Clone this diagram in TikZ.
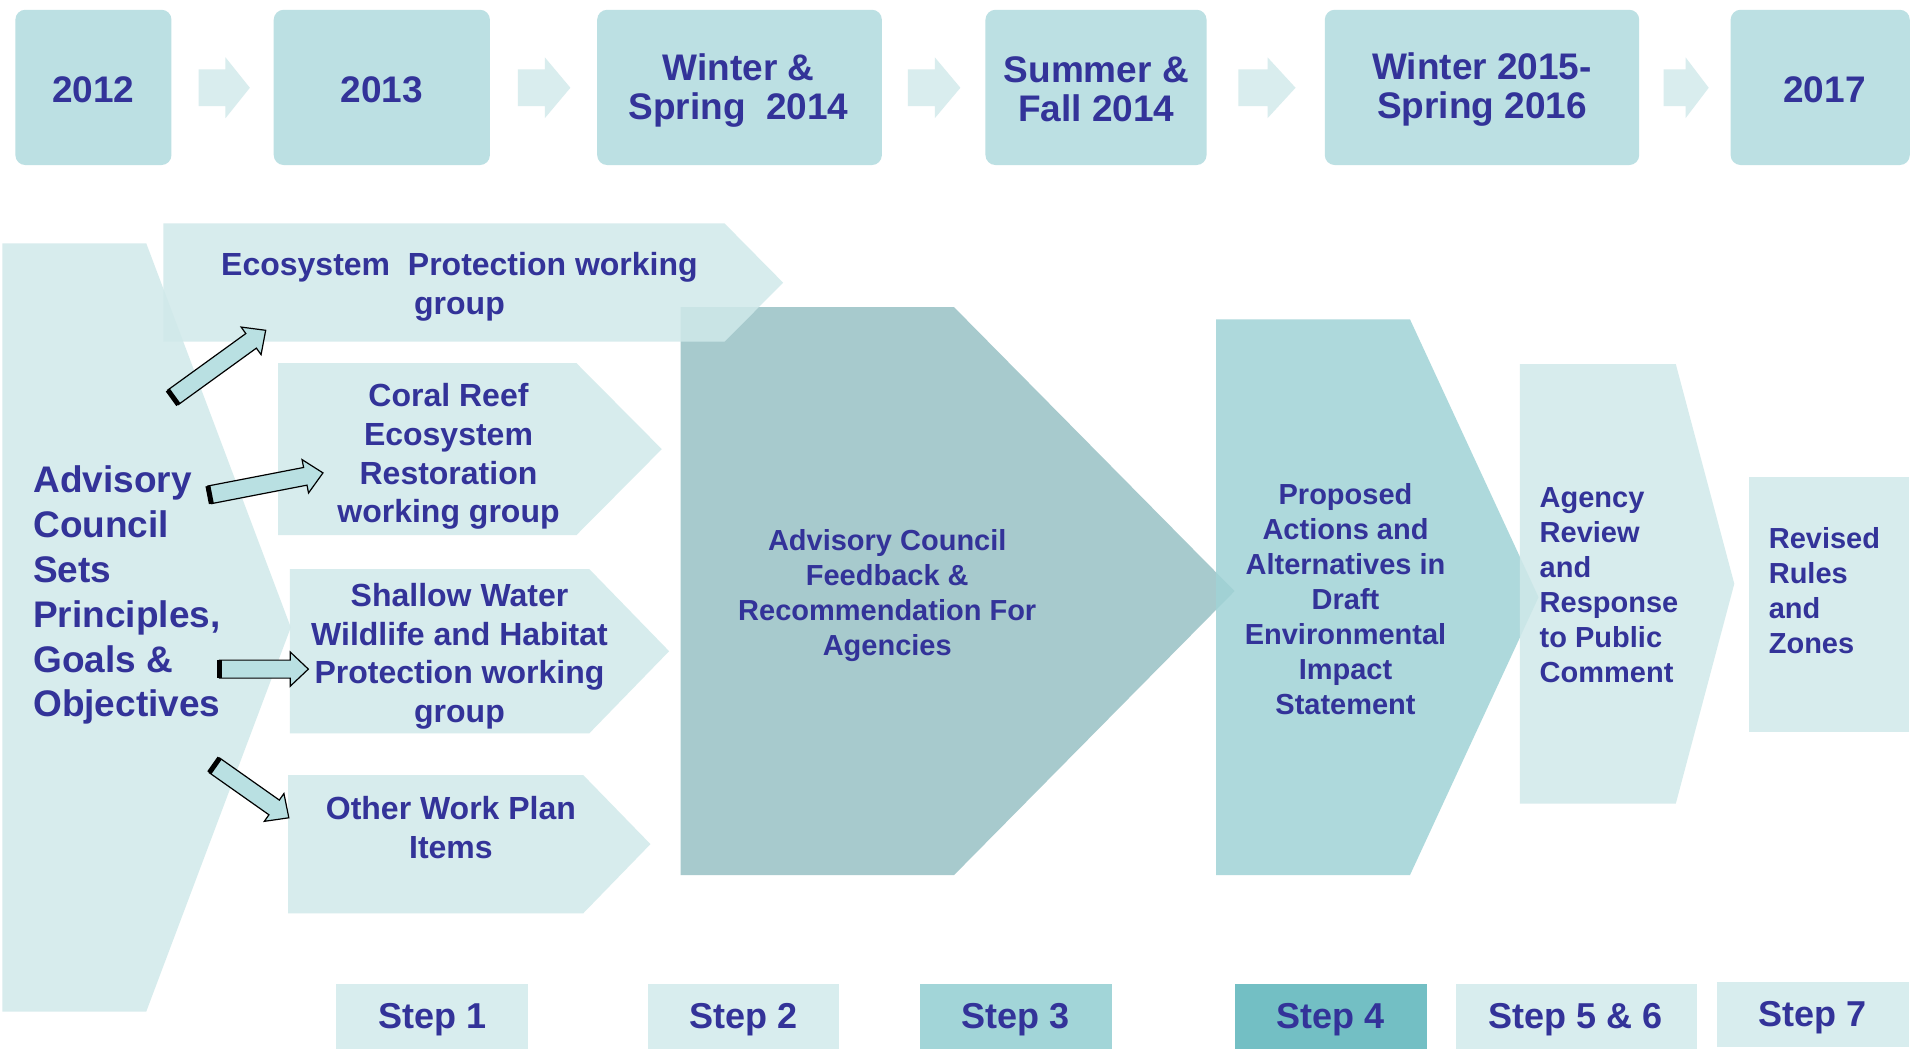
\documentclass[tikz,border=0pt]{standalone}
\usepackage{fontspec}
\setmainfont{Liberation Sans}
\usetikzlibrary{calc}
\definecolor{txt}{RGB}{51,51,153}
\definecolor{topc}{RGB}{188,224,227}
\definecolor{smallarr}{RGB}{217,237,238}
\definecolor{lightc}{RGB}{208,233,234}
\definecolor{darkc}{RGB}{167,202,205}
\definecolor{propc}{RGB}{160,211,214}
\definecolor{stepc}{RGB}{216,237,238}
\definecolor{stepthree}{RGB}{162,213,216}
\definecolor{stepfour}{RGB}{115,191,196}
\definecolor{arrc}{RGB}{185,224,226}
\tikzset{
  topbox/.style={fill=topc, rounded corners=5pt},
  smallarrow/.style={fill=smallarr},
  lightshape/.style={fill=lightc, fill opacity=0.85},
  darkshape/.style={fill=darkc},
  propshape/.style={fill=propc, fill opacity=0.85},
  stepbox/.style={fill=stepc},
  arrowbody/.style={fill=arrc, draw=black, line width=0.6pt, line join=miter},
  basetxt/.style={text=txt, inner sep=0pt, text opacity=1},
  yeartxt/.style={basetxt, align=center, font=\fontsize{18.5}{19.5}\selectfont\bfseries},
  grouptxt/.style={basetxt, align=center, font=\fontsize{16}{19.4}\selectfont\bfseries},
  midtxt/.style={basetxt, align=center, font=\fontsize{14.5}{17.5}\selectfont\bfseries},
  midleft/.style={basetxt, align=left, anchor=west, font=\fontsize{14.5}{17.5}\selectfont\bfseries},
  bigtxt/.style={basetxt, align=left, anchor=west, font=\fontsize{18.5}{22.4}\selectfont\bfseries},
  steptxt/.style={basetxt, font=\fontsize{18}{20}\selectfont\bfseries},
}
\newcommand\blockarrow[2]{%
  \coordinate (#1-b) at ($(#2)!9pt!(#1)$);
  \path[arrowbody] ($(#1)!4.5pt!90:(#2)$) -- ($(#1-b)!4.5pt!90:(#2)$) -- ($(#1-b)!8.5pt!90:(#2)$) -- (#2) -- ($(#1-b)!8.5pt!-90:(#2)$) -- ($(#1-b)!4.5pt!-90:(#2)$) -- ($(#1)!4.5pt!-90:(#2)$) -- cycle;
  \draw[line width=2.5pt] ($(#1)!4.5pt!90:(#2)$) -- ($(#1)!4.5pt!-90:(#2)$);
}
\begin{document}
\begin{tikzpicture}[x=0.6094pt, y=-0.6094pt]
\useasboundingbox[fill=white] (0,0) rectangle (1568,862);

% ---- top timeline ----
\path[topbox] (12.6,8) rectangle (140.7,135.4);
\path[topbox] (224.6,8) rectangle (402,135.4);
\path[topbox] (490,8) rectangle (723.6,135.4);
\path[topbox] (808.6,8) rectangle (990,135.4);
\path[topbox] (1087,8) rectangle (1345,135.4);
\path[topbox] (1420,8) rectangle (1567,135.4);

\path[smallarrow] (163,57) -- (185,57) -- (185,47) -- (205,72) -- (185,97) -- (185,87) -- (163,87) -- cycle;
\path[smallarrow] (425,57) -- (447,57) -- (447,47) -- (468,72) -- (447,97) -- (447,87) -- (425,87) -- cycle;
\path[smallarrow] (745,57) -- (767,57) -- (767,47) -- (788,72) -- (767,97) -- (767,87) -- (745,87) -- cycle;
\path[smallarrow] (1016,57) -- (1040,57) -- (1040,47) -- (1063,72) -- (1040,97) -- (1040,87) -- (1016,87) -- cycle;
\path[smallarrow] (1365,57) -- (1383,57) -- (1383,47) -- (1402,72) -- (1383,97) -- (1383,87) -- (1365,87) -- cycle;

\node[yeartxt] (y2012) at (76.6,73.5) {2012};
\node[yeartxt] (y2013) at (313.3,73.5) {2013};
\node[yeartxt] (w2014) at (606,74) {Winter \&\\Spring~~2014};
\node[yeartxt] (s2014) at (899.5,73.5) {Summer \&\\Fall 2014};
\node[yeartxt] (w2015) at (1216,73.5) {Winter 2015-\\Spring 2016};
\node[yeartxt] (y2017) at (1497,73.5) {2017};

% ---- main flow shapes ----
\path[darkshape] (558.4,252) -- (782.8,252) -- (1013,485) -- (782.8,718) -- (558.4,718) -- cycle;
\path[lightshape] (2,199.6) -- (120,199.6) -- (238.6,514.8) -- (120,830) -- (2,830) -- cycle;
\path[lightshape] (134,183.2) -- (594.4,183.2) -- (642.6,232) -- (594.4,280.3) -- (134,280.3) -- cycle;
\path[lightshape] (228.2,298) -- (473,298) -- (543,368.5) -- (473,439) -- (228.2,439) -- cycle;
\path[lightshape] (237.8,466.9) -- (483.5,466.9) -- (549,534.3) -- (483.5,601.7) -- (237.8,601.7) -- cycle;
\path[lightshape] (236.5,635.9) -- (478.5,635.9) -- (533.7,692.6) -- (478.5,749.4) -- (236.5,749.4) -- cycle;
\path[propshape] (997.8,262) -- (1156.9,262) -- (1262.4,490) -- (1156.9,718) -- (997.8,718) -- cycle;
\path[lightshape] (1247,298.7) -- (1375,298.7) -- (1423,479) -- (1375,659.4) -- (1247,659.4) -- cycle;
\path[lightshape] (1435,391) rectangle (1566,601);

\node[bigtxt] (council) at (27,488.5) {Advisory\\Council\\Sets\\Principles,\\Goals \&\\Objectives};
\node[grouptxt] (eco) at (377,235.5) {Ecosystem~~Protection working\\group};
\node[grouptxt] (coral) at (368,374.5) {Coral Reef\\Ecosystem\\Restoration\\working group};
\node[grouptxt] (shallow) at (377,538.5) {Shallow Water\\Wildlife and Habitat\\Protection working\\group};
\node[grouptxt] (other) at (370,679) {Other Work Plan\\Items};
\node[midtxt] (feedback) at (728,488.5) {Advisory Council\\Feedback \&\\Recommendation For\\Agencies};
\node[midtxt] (proposed) at (1104,491.5) {Proposed\\Actions and\\Alternatives in\\Draft\\Environmental\\Impact\\Statement};
\node[midleft] (agency) at (1263,480.5) {Agency\\Review\\and\\Response\\to Public\\Comment};
\node[midleft] (revised) at (1451,484.5) {Revised\\Rules\\and\\Zones};

% ---- block arrows ----
\coordinate (a1t) at (142,326);  \coordinate (a1h) at (218,271);
\coordinate (a2t) at (172,406);  \coordinate (a2h) at (265,388);
\coordinate (a3t) at (180,549);  \coordinate (a3h) at (253,549);
\coordinate (a4t) at (176,628);  \coordinate (a4h) at (237,671);
\blockarrow{a1t}{a1h}
\blockarrow{a2t}{a2h}
\blockarrow{a3t}{a3h}
\blockarrow{a4t}{a4h}

% ---- steps ----
\path[stepbox] (276,807.4) rectangle (433,860.7);
\path[stepbox] (532,807.4) rectangle (688,860.7);
\path[fill=stepthree] (754.7,807.4) rectangle (912.2,860.7);
\path[fill=stepfour] (1013.5,807.4) rectangle (1171,860.7);
\path[stepbox] (1194.8,807.4) rectangle (1392,860.7);
\path[stepbox] (1409,805.8) rectangle (1566,858.8);
\node[steptxt] (s1) at (354.5,837) {Step 1};
\node[steptxt] (s2) at (610,837) {Step 2};
\node[steptxt] (s3) at (833.5,837) {Step 3};
\node[steptxt] (s4) at (1092,837) {Step 4};
\node[steptxt] (s56) at (1293,837) {Step 5 \& 6};
\node[steptxt] (s7) at (1487.5,835) {Step 7};
\end{tikzpicture}
\end{document}
